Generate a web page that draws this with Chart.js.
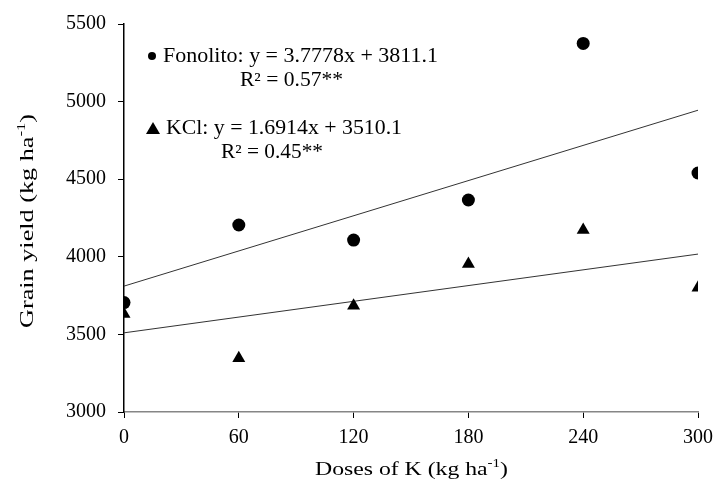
<!DOCTYPE html>
<html>
<head>
<meta charset="utf-8">
<script src="https://cdn.jsdelivr.net/npm/chart.js@4"></script>
<style>
  html, body { margin: 0; padding: 0; background: #fff; }
  #wrap { width: 716px; height: 479px; position: relative; }
</style>
</head>
<body>
<div id="wrap"><canvas id="chart"></canvas></div>
<script>
// Doses de K (kg ha-1)
const doses = [0, 60, 120, 180, 240, 300];
// Produtividade de grãos (kg ha-1)
const fonolito = [3705, 4205, 4108, 4366, 5375, 4540];
const kcl = [3631, 3346, 3685, 3954, 4173, 3801];
// Coeficientes das regressões (y = a*x + b)
const slopes = [3.7778, 1.6914];
const intercepts = [3811.1, 3510.1];
const xTicks = [0, 60, 120, 180, 240, 300];
const yTicks = [3000, 3500, 4000, 4500, 5000, 5500];

const FONT = '"Liberation Serif", "Times New Roman", serif';

function toPoints(ys) {
  return doses.map((d, i) => ({ x: d, y: ys[i] }));
}
function trend(k) {
  const x0 = doses[0], x1 = doses[doses.length - 1];
  return [{ x: x0, y: slopes[k] * x0 + intercepts[k] }, { x: x1, y: slopes[k] * x1 + intercepts[k] }];
}

// texto esticado na horizontal para caber na largura alvo (o original é esticado)
function stretchText(ctx, parts, left, y, width, size) {
  let total = 0;
  parts.forEach(p => {
    ctx.font = (p.sup ? Math.round(size * 0.65) : size) + 'px ' + FONT;
    total += ctx.measureText(p.t).width;
  });
  const sx = width / total;
  ctx.save();
  ctx.translate(left, y);
  ctx.scale(sx, 1);
  let cx = 0;
  parts.forEach(p => {
    ctx.font = (p.sup ? Math.round(size * 0.65) : size) + 'px ' + FONT;
    ctx.textAlign = 'left';
    ctx.textBaseline = 'alphabetic';
    ctx.fillText(p.t, cx, p.sup ? -size * 0.4 : 0);
    cx += ctx.measureText(p.t).width;
  });
  ctx.restore();
}

const annotations = {
  id: 'annotations',
  afterDraw(chart) {
    const ctx = chart.ctx;
    ctx.save();
    ctx.fillStyle = '#000';

    // legendas com equações
    ctx.beginPath();
    ctx.arc(152, 56, 4, 0, Math.PI * 2);
    ctx.fill();
    stretchText(ctx, [{ t: 'Fonolito: y = ' + slopes[0] + 'x + ' + intercepts[0].toFixed(1) }], 163, 62, 275, 20);
    stretchText(ctx, [{ t: 'R² = 0.57**' }], 240, 86, 103, 20);

    ctx.beginPath();
    ctx.moveTo(146, 134);
    ctx.lineTo(153, 122);
    ctx.lineTo(160, 134);
    ctx.closePath();
    ctx.fill();
    stretchText(ctx, [{ t: 'KCl: y = ' + slopes[1] + 'x + ' + intercepts[1].toFixed(1) }], 166, 134, 236, 20);
    stretchText(ctx, [{ t: 'R² = 0.45**' }], 221, 158, 102, 20);

    // título eixo x
    stretchText(ctx, [{ t: 'Doses of K (kg ha' }, { t: '-1', sup: true }, { t: ')' }], 315, 475, 193, 19);

    // título eixo y
    ctx.translate(33, 328);
    ctx.rotate(-Math.PI / 2);
    stretchText(ctx, [{ t: 'Grain yield (kg ha' }, { t: '-1', sup: true }, { t: ')' }], 0, 0, 214, 19);
    ctx.restore();
  }
};

new Chart(document.getElementById('chart'), {
  type: 'scatter',
  data: {
    datasets: [
      {
        label: 'Fonolito',
        data: toPoints(fonolito),
        pointStyle: 'circle',
        pointRadius: 6.5,
        backgroundColor: '#000',
        borderColor: '#000',
        borderWidth: 0
      },
      {
        label: 'KCl',
        data: toPoints(kcl),
        pointStyle: 'triangle',
        pointRadius: 7.5,
        backgroundColor: '#000',
        borderColor: '#000',
        borderWidth: 0
      },
      {
        label: 'Fonolito trend',
        type: 'line',
        data: trend(0),
        borderColor: '#333',
        borderWidth: 1,
        pointRadius: 0,
        fill: false
      },
      {
        label: 'KCl trend',
        type: 'line',
        data: trend(1),
        borderColor: '#333',
        borderWidth: 1,
        pointRadius: 0,
        fill: false
      }
    ]
  },
  options: {
    responsive: true,
    maintainAspectRatio: false,
    animation: false,
    layout: { padding: { top: 24, right: 18, left: 0, bottom: 0 } },
    plugins: {
      legend: { display: false },
      tooltip: { enabled: false }
    },
    scales: {
      x: {
        type: 'linear',
        min: 0,
        max: 300,
        afterBuildTicks: s => { s.ticks = xTicks.map(v => ({ value: v })); },
        afterFit: s => { s.height = 67; s.paddingRight = 0; s.paddingLeft = 0; },
        border: { display: true, color: '#868686', width: 1.5 },
        grid: { drawOnChartArea: false, drawTicks: true, tickLength: 6, color: '#000' },
        ticks: { color: '#000', padding: 8, font: { family: FONT, size: 20 }, callback: v => String(v) }
      },
      y: {
        type: 'linear',
        min: 3000,
        max: 5500,
        afterBuildTicks: s => { s.ticks = yTicks.map(v => ({ value: v })); },
        afterFit: s => { s.width = 124; s.paddingTop = 0; s.paddingBottom = 0; },
        border: { display: true, color: '#000', width: 1.5 },
        grid: { drawOnChartArea: false, drawTicks: true, tickLength: 6, color: '#000' },
        ticks: { color: '#000', padding: 12, font: { family: FONT, size: 20 }, callback: v => String(v) }
      }
    }
  },
  plugins: [annotations]
});
</script>
</body>
</html>
